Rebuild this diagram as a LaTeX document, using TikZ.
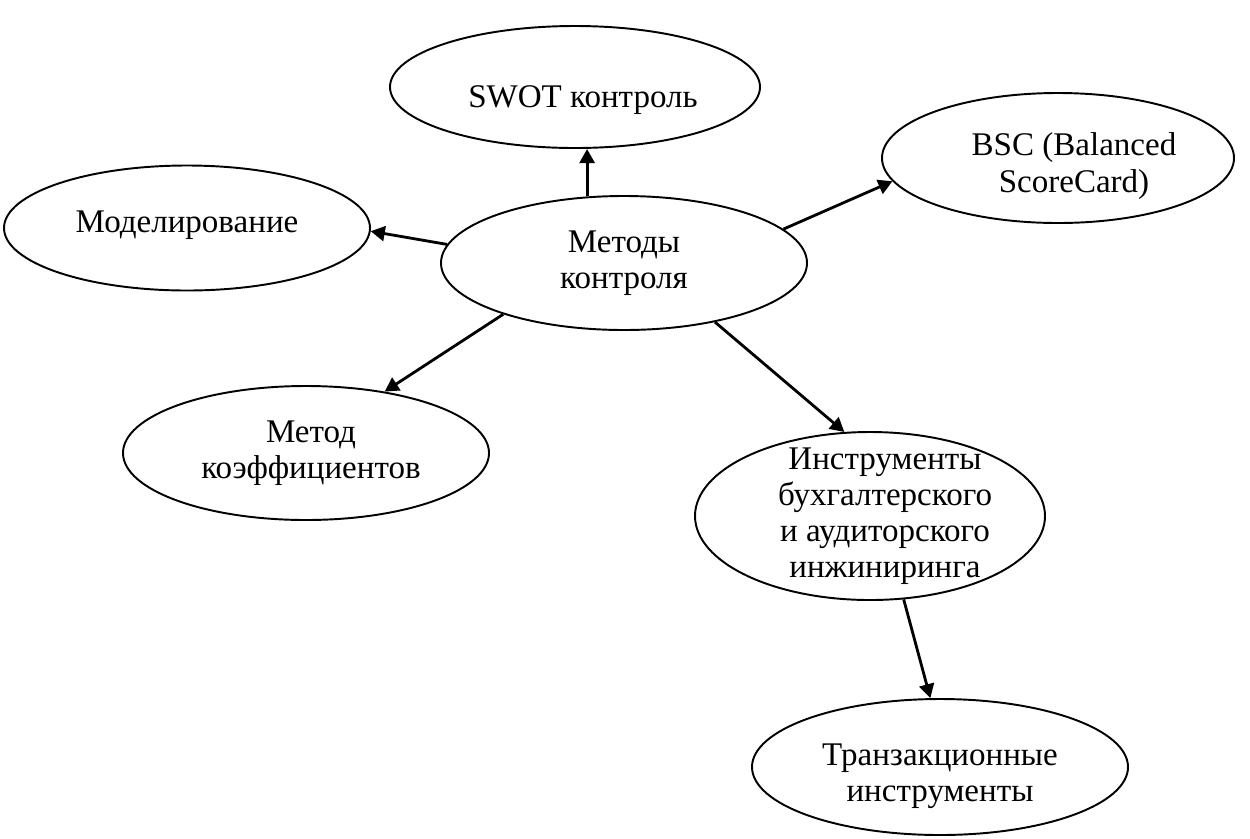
\documentclass[tikz,border=0pt]{standalone}
\usepackage{fontspec}
\setmainfont{Liberation Serif}
\usetikzlibrary{arrows.meta,shapes.geometric,calc}

\begin{document}
\begin{tikzpicture}[
  oval/.style={ellipse, draw, line width=1.1pt, inner sep=0pt},
  lbl/.style={align=center, inner sep=0pt, font=\fontsize{18.8pt}{20.6pt}\selectfont},
  arr/.style={-{Triangle[length=8pt,width=8.5pt]}, line width=1.6pt}
]
  \useasboundingbox (0,0) rectangle (25,-16.76);
  % Ellipses
  \node[oval, minimum width=7.4cm, minimum height=2.44cm] (swot) at (11.5,-1.74) {};
  \node[oval, minimum width=7.04cm, minimum height=2.6cm] (bsc) at (21.16,-3.16) {};
  \node[oval, minimum width=7.32cm, minimum height=2.5cm] (model) at (3.74,-4.56) {};
  \node[oval, minimum width=7.32cm, minimum height=2.68cm] (methods) at (12.48,-5.26) {};
  \node[oval, minimum width=7.32cm, minimum height=2.68cm] (coef) at (6.12,-9.06) {};
  \node[oval, minimum width=7.0cm, minimum height=3.36cm] (instr) at (17.4,-10.32) {};
  \node[oval, minimum width=7.52cm, minimum height=2.72cm] (trans) at (18.8,-15.34) {};
  % Labels
  \node[lbl] (swot-txt) at ($(swot.center)+(0.16,-0.26)$) {SWOT контроль};
  \node[lbl] (bsc-txt) at ($(bsc.center)+(0.32,-0.16)$) {BSC (Balanced\\ScoreCard)};
  \node[lbl] (model-txt) at ($(model.center)+(0,0.06)$) {Моделирование};
  \node[lbl] (methods-txt) at (methods.center) {Методы\\контроля};
  \node[lbl] (coef-txt) at ($(coef.center)+(0.1,0)$) {Метод\\коэффициентов};
  \node[lbl] (instr-txt) at ($(instr.center)+(0.3,0)$) {Инструменты\\бухгалтерского\\и аудиторского\\инжиниринга};
  \node[lbl] (trans-txt) at ($(trans.center)+(0,-0.18)$) {Транзакционные\\инструменты};
  % Arrows
  \draw[arr] (methods.119) -- (methods.119 |- swot.south);
  \draw[arr] (methods.174) -- (model.-1);
  \draw[arr] (methods.12) -- (bsc.188);
  \draw[arr] (methods.203) -- (coef.38);
  \draw[arr] (methods.-33) -- (instr.107);
  \draw[arr] (instr.-68) -- (trans.98);
\end{tikzpicture}
\end{document}
